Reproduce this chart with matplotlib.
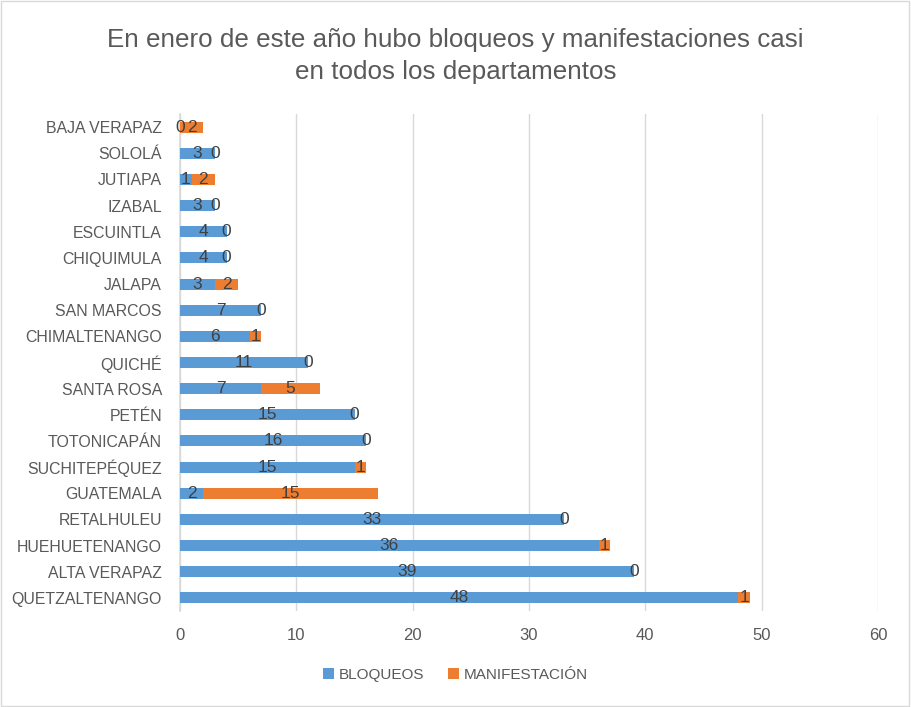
import matplotlib
matplotlib.use("Agg")
import matplotlib.pyplot as plt
from matplotlib.patches import Rectangle

plt.rcParams['font.family'] = ['Liberation Sans', 'DejaVu Sans']

departamentos = ["QUETZALTENANGO", "ALTA VERAPAZ", "HUEHUETENANGO", "RETALHULEU", "GUATEMALA",
                 "SUCHITEPÉQUEZ", "TOTONICAPÁN", "PETÉN", "SANTA ROSA", "QUICHÉ", "CHIMALTENANGO",
                 "SAN MARCOS", "JALAPA", "CHIQUIMULA", "ESCUINTLA", "IZABAL", "JUTIAPA", "SOLOLÁ",
                 "BAJA VERAPAZ"]
bloqueos = [48, 39, 36, 33, 2, 15, 16, 15, 7, 11, 6, 7, 3, 4, 4, 3, 1, 3, 0]
manifestacion = [1, 0, 1, 0, 15, 1, 0, 0, 5, 0, 1, 0, 2, 0, 0, 0, 2, 0, 2]
xticks = [0, 10, 20, 30, 40, 50, 60]

title = "En enero de este año hubo bloqueos y manifestaciones casi\nen todos los departamentos"

blue = "#5B9BD5"
orange = "#ED7D31"
txt = "#595959"

fig = plt.figure(figsize=(9.11, 7.07), dpi=100)
ax = fig.add_axes([180/911, 1-611/707, (878-180)/911, (611-114)/707])

y = list(range(len(departamentos)))
h = 0.42
b1 = ax.barh(y, bloqueos, height=h, color=blue, label="BLOQUEOS", zorder=3)
b2 = ax.barh(y, manifestacion, left=bloqueos, height=h, color=orange, label="MANIFESTACIÓN", zorder=3)

for i in y:
    ax.text(bloqueos[i]/2, i, str(bloqueos[i]), ha='center', va='center', fontsize=12.5, color="#404040", zorder=4)
    ax.text(bloqueos[i] + manifestacion[i]/2, i, str(manifestacion[i]), ha='center', va='center',
            fontsize=12.5, color="#404040", zorder=4)

ax.set_xlim(0, 60)
ax.set_ylim(-0.5, len(departamentos)-0.5)
ax.set_xticks(xticks)
ax.set_xticklabels([str(t) for t in xticks], fontsize=12)
ax.set_yticks(y)
ax.set_yticklabels(departamentos, fontsize=11.4)
ax.tick_params(axis='both', length=0, colors=txt)
ax.tick_params(axis='y', pad=13)
ax.tick_params(axis='x', pad=12)
ax.grid(axis='x', color="#D9D9D9", linewidth=1, zorder=0)
for s in ['top', 'right', 'bottom']:
    ax.spines[s].set_visible(False)
ax.spines['left'].set_color("#D9D9D9")
ax.spines['left'].set_linewidth(1.2)

fig.text(0.5, 1-56/707, title, ha='center', va='center', fontsize=18.7, color=txt, linespacing=1.42)

leg = fig.legend(handles=[b1, b2], loc='center', bbox_to_anchor=(0.5, 1-675/707), ncol=2,
                 frameon=False, fontsize=11, handlelength=0.7, handleheight=0.7,
                 columnspacing=1.6, handletextpad=0.3)
for t in leg.get_texts():
    t.set_color(txt)

fig.patches.append(Rectangle((0.001, 0.001), 0.997, 0.997, transform=fig.transFigure,
                             fill=False, edgecolor="#D9D9D9", linewidth=1))

fig.savefig("out.png", dpi=100, facecolor="white")
